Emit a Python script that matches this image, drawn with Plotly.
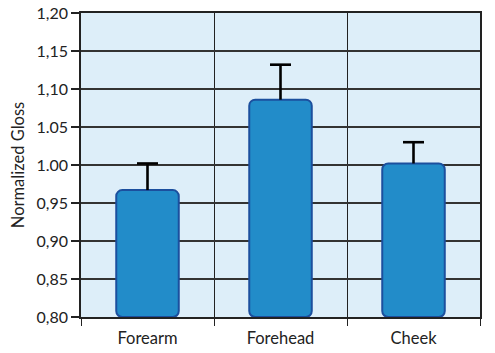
import plotly.graph_objects as go

categories = ["Forearm", "Forehead", "Cheek"]
values = [0.967, 1.086, 1.002]
errors = [0.035, 0.046, 0.028]
ytick_vals = [0.80, 0.85, 0.90, 0.95, 1.00, 1.05, 1.10, 1.15, 1.20]
ytick_text = ["0,80", "0,85", "0,90", "0,95", "1.00", "1.05", "1,10", "1,15", "1,20"]
base_value = 0.80

tops = [v + e for v, e in zip(values, errors)]

fig = go.Figure()
fig.add_trace(go.Bar(
    x=categories,
    y=[v - base_value for v in values],
    base=base_value,
    width=0.47,
    marker=dict(color="#228cc9", line=dict(color="#1b4f9e", width=2), cornerradius=6),
    error_y=dict(type="data", symmetric=False, array=errors, arrayminus=[0, 0, 0],
                 color="black", thickness=2.6, width=0),
    hoverinfo="skip",
))
# caps of the error bars (upper side only)
fig.add_trace(go.Scatter(
    x=categories, y=tops, mode="markers",
    marker=dict(symbol="line-ew", size=15, line=dict(color="black", width=2.6)),
    hoverinfo="skip",
))

font = "Lato, Open Sans, sans-serif"
fig.update_layout(
    width=495, height=353,
    margin=dict(l=81, r=15, t=13, b=36),
    paper_bgcolor="white",
    plot_bgcolor="#ddeef9",
    showlegend=False,
    font=dict(family=font, color="#222", size=15),
)
fig.update_xaxes(
    tickson="boundaries", showgrid=True, gridcolor="#222", gridwidth=1.3,
    ticks="outside", ticklen=7, tickcolor="#222", tickwidth=1.3,
    showline=True, linecolor="#222", linewidth=1.5, mirror=True,
    tickfont=dict(size=16.5, family=font), zeroline=False, ticklabelstandoff=5,
    automargin=False,
)
fig.update_yaxes(
    range=[0.80, 1.20], tickvals=ytick_vals, ticktext=ytick_text,
    showgrid=True, gridcolor="#333", gridwidth=1.7,
    ticks="outside", ticklen=8, tickcolor="#222", tickwidth=1.7,
    showline=True, linecolor="#222", linewidth=1.5, mirror=True,
    tickfont=dict(size=16, family=font), zeroline=False, automargin=False,
    title=dict(text="Normalized Gloss", font=dict(size=16.5, family=font), standoff=8),
)
fig.write_html("out.html")
